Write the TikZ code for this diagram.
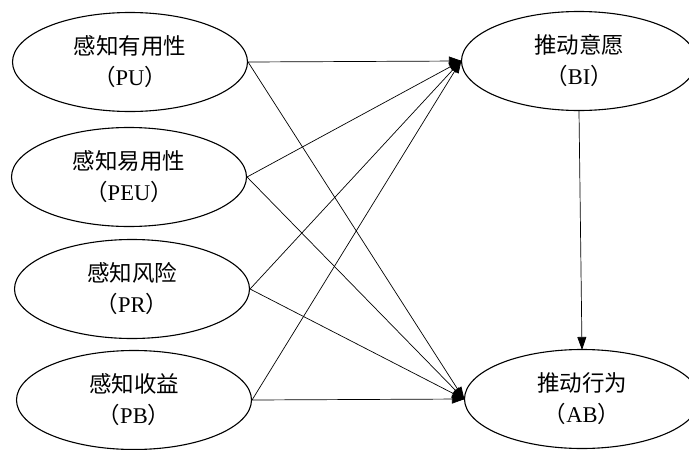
\documentclass[tikz,border=0pt]{standalone}
\usepackage{fontspec}
\setmainfont{Liberation Serif}
\newfontfamily\cjk{Noto Sans CJK SC}
\usetikzlibrary{shapes.geometric,arrows.meta}
\tikzset{
  oval/.style={ellipse,draw,line width=1.1pt,minimum width=235pt,minimum height=99pt,inner sep=0pt,align=center,font=\fontsize{22.5}{31}\selectfont},
  link/.style={line width=0.7pt,-{Triangle[length=13pt,width=9pt]},shorten >=-1pt}
}
\newcommand{\lbl}[2]{{\cjk #1}\\{\cjk （}#2{\cjk ）}}
\begin{document}
\begin{tikzpicture}[x=1pt,y=-1pt]
\useasboundingbox (0,0) rectangle (689,450);
\node[oval] (pu) at (130,62) {\lbl{感知有用性}{PU}};
\node[oval] (peu) at (129,177) {\lbl{感知易用性}{PEU}};
\node[oval] (pr) at (132,289) {\lbl{感知风险}{PR}};
\node[oval] (pb) at (134,400) {\lbl{感知收益}{PB}};
\node[oval] (bi) at (579,61) {\lbl{推动意愿}{BI}};
\node[oval] (ab) at (582,399) {\lbl{推动行为}{AB}};
\foreach \s in {pu,peu,pr,pb}{
  \draw[link] (\s.east) -- (bi.west);
  \draw[link] (\s.east) -- (ab.west);
}
\draw[link] (bi.south) -- (ab.north);
\end{tikzpicture}
\end{document}
